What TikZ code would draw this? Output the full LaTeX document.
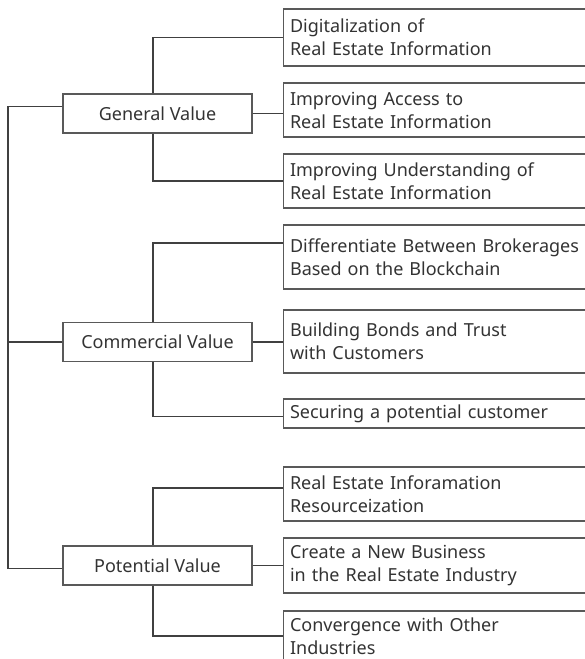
\documentclass[tikz,border=0pt]{standalone}
\usepackage{fontspec}
\setmainfont{Noto Sans}
\begin{document}
\begin{tikzpicture}[x=1pt,y=-1pt,
  line width=1.1pt,
  every node/.style={font=\fontsize{18}{23}\selectfont, text=black!80},
  valuebox/.style={draw=black!65, line width=1.1pt, minimum width=189pt, minimum height=39pt, inner sep=0pt},
  itembox/.style={draw=black!65, line width=1.1pt, anchor=west, text width=300pt, align=left, inner xsep=7pt, inner ysep=0pt},
  link/.style={draw=black!75, line width=1.1pt}
]
\useasboundingbox (0,0) rectangle (585,659);
\clip (0,0) rectangle (585,659);

% first level: the three kinds of value
\node[valuebox] (gv) at (157.5,113.5) {General Value};
\node[valuebox] (cv) at (157.5,342) {Commercial Value};
\node[valuebox] (pv) at (157.5,565.5) {Potential Value};

% second level: items of each value
\node[itembox, minimum height=57pt] (g1) at (282.5,37.5) {Digitalization of\\Real Estate Information};
\node[itembox, minimum height=54pt] (g2) at (282.5,110) {Improving Access to\\Real Estate Information};
\node[itembox, minimum height=54pt] (g3) at (282.5,181) {Improving Understanding of\\Real Estate Information};
\node[itembox, minimum height=64pt] (c1) at (282.5,257) {Differentiate Between Brokerages\\Based on the Blockchain};
\node[itembox, minimum height=63pt] (c2) at (282.5,341.5) {Building Bonds and Trust\\with Customers};
\node[itembox, minimum height=29pt] (c3) at (282.5,413.5) {Securing a potential customer};
\node[itembox, minimum height=54pt] (p1) at (282.5,494) {Real Estate Inforamation\\Resourceization};
\node[itembox, minimum height=55pt] (p2) at (282.5,565.5) {Create a New Business\\in the Real Estate Industry};
\node[itembox, minimum height=50pt] (p3) at (282.5,636) {Convergence with Other\\Industries};

% trunk on the left joining the three values
\coordinate (trunk) at (8,300);
\coordinate (gvin) at ([yshift=7pt]gv.west);
\coordinate (pvin) at ([yshift=-3pt]pv.west);
\draw[link] (gvin) -- (gvin -| trunk) -- (pvin -| trunk) -- (pvin);
\draw[link] (cv.west) -- (cv.west -| trunk);

% branches of General Value
\coordinate (gvt) at ([xshift=-4.5pt]gv.north);
\coordinate (gvb) at ([xshift=-4.5pt]gv.south);
\draw[link] (gvt) |- (g1.west);
\draw[link] (gv.east) -- (gv.east -| g2.west);
\draw[link] (gvb) |- (g3.west);

% branches of Commercial Value
\coordinate (cvt) at ([xshift=-4.5pt]cv.north);
\coordinate (cvb) at ([xshift=-4.5pt]cv.south);
\coordinate (c1in) at ([yshift=14pt]c1.west);
\coordinate (c3in) at ([yshift=-3pt]c3.west);
\draw[link] (cvt) |- (c1in);
\draw[link] (cv.east) -- (cv.east -| c2.west);
\draw[link] (cvb) |- (c3in);

% branches of Potential Value
\coordinate (pvt) at ([xshift=-4.5pt]pv.north);
\coordinate (pvb) at ([xshift=-4.5pt]pv.south);
\coordinate (p1in) at ([yshift=6pt]p1.west);
\draw[link] (pvt) |- (p1in);
\draw[link] (pv.east) -- (pv.east -| p2.west);
\draw[link] (pvb) |- (p3.west);
\end{tikzpicture}
\end{document}
